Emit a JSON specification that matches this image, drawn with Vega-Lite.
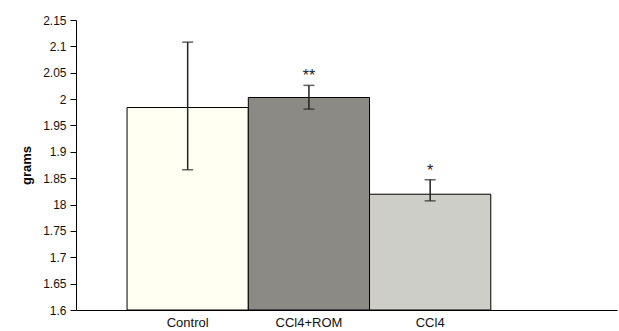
{
  "$schema": "https://vega.github.io/schema/vega-lite/v6.json",
  "autosize": "none",
  "width": 541,
  "height": 290,
  "padding": {"left": 76, "top": 20, "right": 2, "bottom": 21},
  "background": "white",
  "config": {
    "font": "Liberation Sans",
    "view": {"stroke": null},
    "axisY": {
      "title": "grams",
      "titleFontSize": 13,
      "titleFontWeight": "bold",
      "titleColor": "black",
      "titlePadding": 9,
      "values": [1.6, 1.65, 1.7, 1.75, 1.8, 1.85, 1.9, 1.95, 2, 2.05, 2.1, 2.15],
      "labelExpr": "abs(datum.value - 1.8) < 0.001 ? '18' : format(datum.value, '.2~f')",
      "labelOverlap": false,
      "labelFlush": false,
      "labelBound": false,
      "grid": false,
      "domainColor": "black",
      "tickColor": "black",
      "tickSize": 6,
      "labelColor": "#111111",
      "labelFontSize": 12,
      "labelPadding": 4
    }
  },
  "data": {
    "values": [
      {"group": "Control", "mean": 1.984, "lo": 1.866, "hi": 2.108, "sig": ""},
      {"group": "CCl4+ROM", "mean": 2.003, "lo": 1.981, "hi": 2.026, "sig": "**"},
      {"group": "CCl4", "mean": 1.8196, "lo": 1.807, "hi": 1.847, "sig": "*"}
    ]
  },
  "encoding": {
    "x": {
      "field": "group",
      "type": "nominal",
      "sort": null,
      "scale": {"paddingInner": 0, "paddingOuter": 0.731, "align": 0.288},
      "axis": {
        "title": null,
        "labelAngle": 0,
        "ticks": false,
        "labelOverlap": false,
        "domainColor": "black",
        "domainWidth": 1,
        "labelColor": "#111111",
        "labelFontSize": 13,
        "labelPadding": 6,
        "encode": {"labels": {"update": {"dy": {"signal": "datum.value === 'CCl4+ROM' ? 3 : 0"}}}}
      }
    },
    "y": {
      "field": "mean",
      "type": "quantitative",
      "title": "grams",
      "scale": {"domain": [1.6, 2.15], "zero": false, "nice": false}
    }
  },
  "layer": [
    {
      "mark": {"type": "bar", "stroke": "black", "strokeWidth": 1},
      "encoding": {
        "y2": {"datum": 1.6},
        "fill": {
          "field": "group",
          "type": "nominal",
          "scale": {"domain": ["Control", "CCl4+ROM", "CCl4"], "range": ["#FFFFF2", "#8C8A85", "#CECEC9"]},
          "legend": null
        }
      }
    },
    {
      "mark": {"type": "rule", "color": "#222222", "strokeWidth": 1.5},
      "encoding": {
        "y": {"field": "lo", "type": "quantitative", "title": "grams"},
        "y2": {"field": "hi"}
      }
    },
    {
      "mark": {"type": "tick", "color": "#222222", "size": 11, "thickness": 1.5},
      "encoding": {"y": {"field": "lo", "type": "quantitative", "title": "grams"}}
    },
    {
      "mark": {"type": "tick", "color": "#222222", "size": 11, "thickness": 1.5},
      "encoding": {"y": {"field": "hi", "type": "quantitative", "title": "grams"}}
    },
    {
      "mark": {"type": "text", "fontSize": 16, "baseline": "alphabetic", "dy": -4, "color": "#222222"},
      "encoding": {
        "y": {"field": "hi", "type": "quantitative", "title": "grams"},
        "text": {"field": "sig"}
      }
    }
  ]
}
